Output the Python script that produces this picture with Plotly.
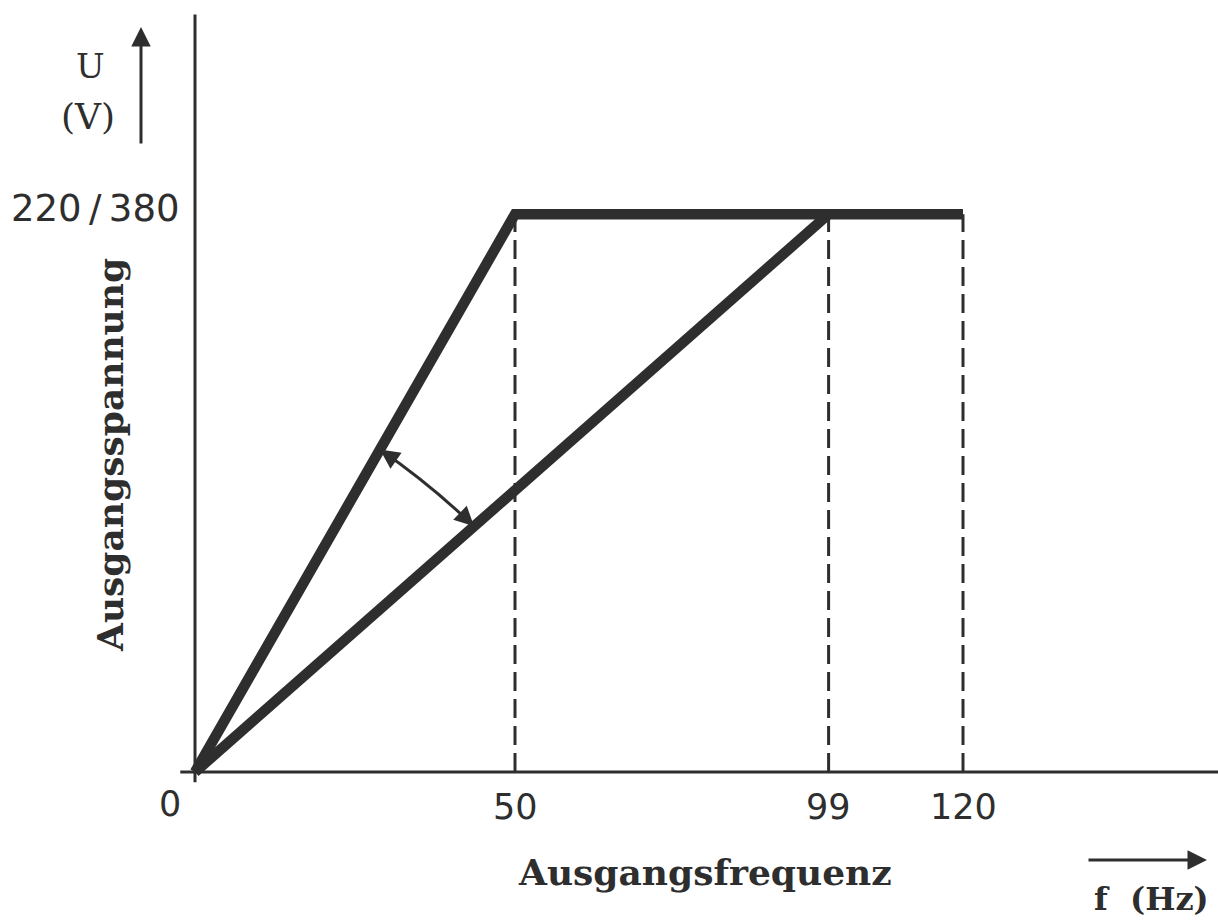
import plotly.graph_objects as go

# ---- data ----
freq_fast = [0, 50, 120]          # Hz, upper characteristic
volt_fast = [0, 380, 380]
freq_slow = [0, 99]               # Hz, lower characteristic
volt_slow = [0, 380]
dashed_freqs = [50, 99, 120]
x_tick_labels = ["50", "99", "120"]
y_tick_value = 380
y_tick_label = "220\u2009/\u2009380"

W, H = 1218, 921
ORIG_PX, ORIG_PY = 195, 772
SX, SY = 6.4, 1.468
x_range = [-ORIG_PX / SX, (W - ORIG_PX) / SX]
y_range = [(ORIG_PY - H) / SY, ORIG_PY / SY]

INK = "#2e2e2e"
SERIF = "DejaVu Serif"
SANS = "DejaVu Sans"

fig = go.Figure()

# dashed verticals
for f in dashed_freqs:
    fig.add_trace(go.Scatter(x=[f, f], y=[0, y_tick_value], mode="lines",
                             line=dict(color=INK, width=3, dash="19px,8px"),
                             showlegend=False, hoverinfo="skip"))

# main characteristics
fig.add_trace(go.Scatter(x=freq_fast, y=volt_fast, mode="lines",
                         line=dict(color=INK, width=10.5), showlegend=False))
fig.add_trace(go.Scatter(x=freq_slow, y=volt_slow, mode="lines",
                         line=dict(color=INK, width=10.5), showlegend=False))

# axes lines
fig.add_shape(type="line", x0=-2.3, y0=0, x1=x_range[1] + 1, y1=0,
              line=dict(color=INK, width=3), layer="above")
fig.add_shape(type="line", x0=0, y0=-7, x1=0, y1=516,
              line=dict(color=INK, width=3), layer="above")

# slightly curved double-headed arrow between the two characteristics
fa, fb = 28.9, 43.6
pa = (fa, volt_fast[1] * fa / freq_fast[1])
pb = (fb, volt_slow[1] * fb / freq_slow[1])
ctrl = ((pa[0] + pb[0]) / 2 + 0.5, (pa[1] + pb[1]) / 2 + 2.5)
fig.add_shape(type="path",
              path=f"M {pa[0]},{pa[1]} Q {ctrl[0]},{ctrl[1]} {pb[0]},{pb[1]}",
              line=dict(color=INK, width=3), layer="above")
for p in (pa, pb):
    t = 0.3
    tail = (p[0] + (ctrl[0] - p[0]) * t, p[1] + (ctrl[1] - p[1]) * t)
    fig.add_annotation(x=p[0], y=p[1], ax=tail[0], ay=tail[1], xref="x", yref="y",
                       axref="x", ayref="y", text="", showarrow=True,
                       arrowhead=2, arrowsize=1.3, arrowwidth=3, arrowcolor=INK)

# tick labels
for f, lab in zip(dashed_freqs, x_tick_labels):
    fig.add_annotation(x=f, y=0, yshift=-35, text=lab, showarrow=False,
                       font=dict(family=SANS, size=35, color=INK))
fig.add_annotation(x=0, y=0, xshift=-25, yshift=-32, text="0", showarrow=False,
                   font=dict(family=SANS, size=35, color=INK))
fig.add_annotation(x=0, y=y_tick_value, xshift=-100, yshift=6, text=y_tick_label,
                   showarrow=False, font=dict(family=SANS, size=37, color=INK))

def px(xp, yp):
    return dict(x=xp / W, y=1 - yp / H, xref="paper", yref="paper",
                xanchor="center", yanchor="middle")

# axis titles
fig.add_annotation(**px(705, 872), text="<b>Ausgangsfrequenz</b>", showarrow=False,
                   font=dict(family=SERIF, size=36, color=INK))
fig.add_annotation(**px(110, 455), text="<b>Ausgangsspannung</b>", showarrow=False,
                   textangle=-90, font=dict(family=SERIF, size=36, color=INK))
fig.add_annotation(**px(1151, 899), text="<b>f\u00a0\u00a0(Hz)</b>", showarrow=False,
                   font=dict(family=SERIF, size=32, color=INK))
fig.add_annotation(**px(90, 66), text="U", showarrow=False,
                   font=dict(family=SERIF, size=34, color=INK))
fig.add_annotation(**px(88, 116), text="(V)", showarrow=False,
                   font=dict(family=SERIF, size=36, color=INK))

# unit arrows (tail offsets in pixels)
fig.add_annotation(x=141 / W, y=1 - 27 / H, xref="paper", yref="paper",
                   ax=0, ay=118, axref="pixel", ayref="pixel",
                   text="", showarrow=True, arrowhead=2, arrowsize=1.3,
                   arrowwidth=3, arrowcolor=INK)
fig.add_annotation(x=1207 / W, y=1 - 860 / H, xref="paper", yref="paper",
                   ax=-120, ay=0, axref="pixel", ayref="pixel",
                   text="", showarrow=True, arrowhead=2, arrowsize=1.3,
                   arrowwidth=3, arrowcolor=INK)

fig.update_layout(
    width=W, height=H, margin=dict(l=0, r=0, t=0, b=0),
    paper_bgcolor="white", plot_bgcolor="white", showlegend=False,
    xaxis=dict(range=x_range, visible=False, fixedrange=True),
    yaxis=dict(range=y_range, visible=False, fixedrange=True),
)

fig.write_html("out.html", config={"displayModeBar": False},
               post_script="document.body.style.margin='0';")
